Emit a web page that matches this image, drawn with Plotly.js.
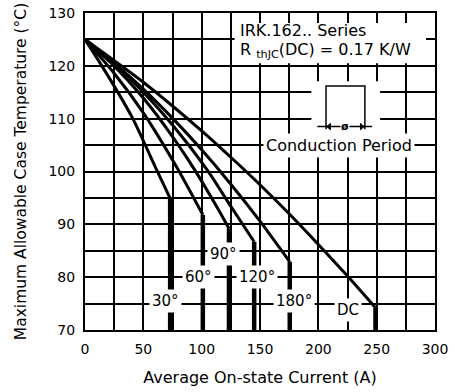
<!DOCTYPE html>
<html>
<head>
<meta charset="utf-8">
<script src="https://cdn.plot.ly/plotly-3.0.1.min.js"></script>
<style>html,body{margin:0;padding:0;background:#fff;}#chart{width:455px;height:392px;}</style>
</head>
<body>
<div id="chart"></div>
<script>
// Average on-state current (A) and max allowable case temperature (°C) per conduction angle
const dcI   = [0, 50, 100, 125, 150, 175, 200, 225, 249];
const dcT   = [125, 116.9, 107.7, 102.7, 97.5, 92.0, 86.2, 80.2, 74.2];
const a180I = [0, 25, 50, 75, 100, 125, 150, 175.5];
const a180T = [125, 120.5, 115.6, 110.1, 104.1, 97.6, 90.6, 82.9];
const a120I = [0, 25, 50, 75, 105, 125, 145];
const a120T = [125, 120.5, 115, 108.8, 100.2, 93.4, 86.7];
const a90I  = [0, 25, 50, 75, 94, 114.3, 123.4];
const a90T  = [125, 120, 113.9, 106.6, 100.3, 92.8, 89.2];
const a60I  = [0, 25, 50, 80, 101];
const a60T  = [125, 118.6, 111.1, 100.3, 91.8];
const a30I  = [0, 20, 41, 61, 73];
const a30T  = [125, 118, 110, 100.5, 94.9];

const curveNames = ['30°', '60°', '90°', '120°', '180°', 'DC'];
const curveI = [a30I, a60I, a90I, a120I, a180I, dcI];
const curveT = [a30T, a60T, a90T, a120T, a180T, dcT];
const labelX = [69, 97.5, 118.8, 147.5, 179.5, 225.5];
const labelY = [75.4, 80, 84.4, 80, 75.4, 73.8];

const xTicks = [0, 50, 100, 150, 200, 250, 300];
const yTicks = [70, 80, 90, 100, 110, 120, 130];
const yMin = 70;

const FONT = 'DejaVu Sans, Arial, sans-serif';
const traces = [];
curveNames.forEach((n, i) => {
  const I = curveI[i], T = curveT[i];
  traces.push({x: I, y: T, mode: 'lines', name: n, line: {color: '#000', width: 3, shape: 'spline', smoothing: 0.6}, hoverinfo: 'skip'});
  const last = I.length - 1;
  traces.push({x: [I[last], I[last]], y: [T[last], yMin], mode: 'lines', name: n + ' limit', line: {color: '#000', width: 4.5}, hoverinfo: 'skip'});
});

const annotations = curveNames.map((n, i) => ({
  x: labelX[i], y: labelY[i], xref: 'x', yref: 'y', text: n, showarrow: false,
  bgcolor: '#fff', borderpad: 2, font: {family: FONT, size: 15, color: '#000'}
}));
annotations.push(
  {x: 130.8, y: 126.6, xref: 'x', yref: 'y', xanchor: 'left', text: 'IRK.162.. Series', showarrow: false, font: {family: FONT, size: 16, color: '#000'}},
  {x: 130.8, y: 122.9, xref: 'x', yref: 'y', xanchor: 'left', text: 'R <sub>thJC</sub>(DC) = 0.17 K/W', showarrow: false, font: {family: FONT, size: 16, color: '#000'}},
  {x: 217.5, y: 105, xref: 'x', yref: 'y', text: 'Conduction Period', showarrow: false, bgcolor: '#fff', borderpad: 2, font: {family: FONT, size: 16, color: '#000'}},
  {x: 222.6, y: 108.6, xref: 'x', yref: 'y', text: '<b>ø</b>', showarrow: false, bgcolor: '#fff', borderpad: 0, font: {family: FONT, size: 11, color: '#000'}}
);

const shapes = [
  {type: 'rect', xref: 'x', yref: 'y', x0: 128.2, x1: 292.3, y0: 120.5, y1: 128.1, fillcolor: '#fff', line: {width: 0}, layer: 'above'},
  {type: 'rect', xref: 'x', yref: 'y', x0: 194, x1: 253, y0: 106.9, y1: 117.1, fillcolor: '#fff', line: {width: 0}, layer: 'above'},
  {type: 'path', xref: 'x', yref: 'y', path: 'M 206.6,108 L 206.6,116.2 L 239.9,116.2 L 239.9,108', line: {color: '#000', width: 1.5}, layer: 'above'},
  {type: 'line', xref: 'x', yref: 'y', x0: 199.1, x1: 246.2, y0: 108.5, y1: 108.5, line: {color: '#000', width: 1.5}, layer: 'above'},
  {type: 'path', xref: 'x', yref: 'y', path: 'M 207.2,108.5 L 210.4,109.1 L 210.4,107.9 Z', fillcolor: '#000', line: {color: '#000', width: 1}, layer: 'above'},
  {type: 'path', xref: 'x', yref: 'y', path: 'M 239.3,108.5 L 236.1,109.1 L 236.1,107.9 Z', fillcolor: '#000', line: {color: '#000', width: 1}, layer: 'above'}
];

const axisCommon = {
  showgrid: true, gridcolor: '#000', gridwidth: 2,
  showline: true, linecolor: '#000', linewidth: 2, mirror: true,
  zeroline: false, ticks: '', ticklabelstandoff: 5,
  tickfont: {family: FONT, size: 14, color: '#000'}
};

const layout = {
  width: 455, height: 392,
  margin: {l: 85, r: 20, t: 13, b: 62},
  paper_bgcolor: '#fff', plot_bgcolor: '#fff',
  showlegend: false,
  font: {family: FONT, color: '#000'},
  xaxis: Object.assign({}, axisCommon, {
    range: [0, 300], tickvals: xTicks, ticktext: xTicks.map(String),
    minor: {dtick: 25, tick0: 0, showgrid: true, gridcolor: '#000', gridwidth: 2},
    title: {text: 'Average On-state Current (A)', font: {family: FONT, size: 16, color: '#000'}, standoff: 16}
  }),
  yaxis: Object.assign({}, axisCommon, {
    range: [70, 130], tickvals: yTicks, ticktext: yTicks.map(String),
    minor: {dtick: 5, tick0: 70, showgrid: true, gridcolor: '#000', gridwidth: 2},
    title: {text: 'Maximum Allowable Case Temperature (°C)', font: {family: FONT, size: 15.5, color: '#000'}, standoff: 18}
  }),
  annotations: annotations,
  shapes: shapes
};

Plotly.newPlot('chart', traces, layout, {staticPlot: true, displayModeBar: false});
</script>
</body>
</html>
